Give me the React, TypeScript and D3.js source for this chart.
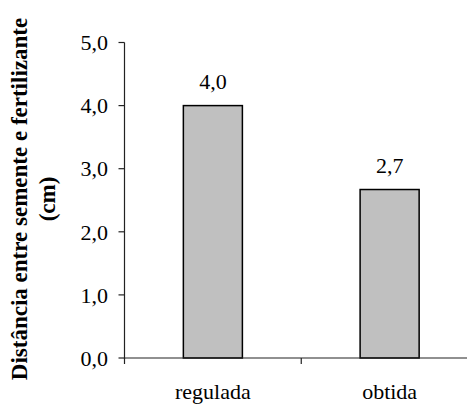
import React from "react";
import * as d3 from "d3";

const categories = ["regulada", "obtida"];
const values = [4.0, 2.67];
const yTicks = [0, 1, 2, 3, 4, 5];

const W = 467;
const H = 406;
const FONT = "'Liberation Serif', 'Times New Roman', serif";

export default function App() {
  const x = d3.scaleBand<string>().domain(categories).range([124.5, 478]).padding(0);
  const y = d3.scaleLinear().domain([0, 5]).range([358, 42.5]);
  const bw = x.bandwidth() * 0.334;
  const fmt = (v: number) => v.toFixed(1).replace(".", ",");
  const x0 = x.range()[0];
  const boundaries = categories.map((c) => x(c) as number).concat([x.range()[1]]);

  return (
    <svg
      width={W}
      height={H}
      style={{ position: "absolute", left: 0, top: 0, background: "#fff" }}
      fontFamily={FONT}
    >
      {/* bars */}
      {categories.map((c, i) => {
        const cx = (x(c) as number) + x.bandwidth() / 2;
        return (
          <g key={c}>
            <rect
              x={cx - bw / 2}
              y={y(values[i])}
              width={bw}
              height={y(0) - y(values[i])}
              fill="#C0C0C0"
              stroke="#000"
              strokeWidth={1.5}
            />
            <text x={cx} y={y(values[i]) - 17} textAnchor="middle" fontSize={22} fill="#000">
              {fmt(values[i])}
            </text>
            <text x={cx} y={399} textAnchor="middle" fontSize={22} fill="#000">
              {c}
            </text>
          </g>
        );
      })}
      {/* y axis */}
      <line x1={x0} x2={x0} y1={y(5)} y2={y(0) + 1} stroke="#222" strokeWidth={1.2} />
      {yTicks.map((t) => (
        <g key={t}>
          <line x1={x0 - 6} x2={x0} y1={y(t)} y2={y(t)} stroke="#222" strokeWidth={1.2} />
          <text x={108} y={y(t)} dy="0.35em" textAnchor="end" fontSize={22} fill="#000">
            {fmt(t)}
          </text>
        </g>
      ))}
      {/* x axis */}
      <line x1={x0} x2={W} y1={y(0)} y2={y(0)} stroke="#222" strokeWidth={1.2} />
      {boundaries.map((b, i) => (
        <line key={i} x1={b} x2={b} y1={y(0)} y2={y(0) + 6} stroke="#222" strokeWidth={1.2} />
      ))}
      {/* y title */}
      <g transform={`translate(0, 199) rotate(-90)`}>
        <text x={0} y={27} textAnchor="middle" fontSize={23} fontWeight="bold" fill="#000">
          Distância entre semente e fertilizante
        </text>
        <text x={0} y={55} textAnchor="middle" fontSize={23} fontWeight="bold" fill="#000">
          (cm)
        </text>
      </g>
    </svg>
  );
}
